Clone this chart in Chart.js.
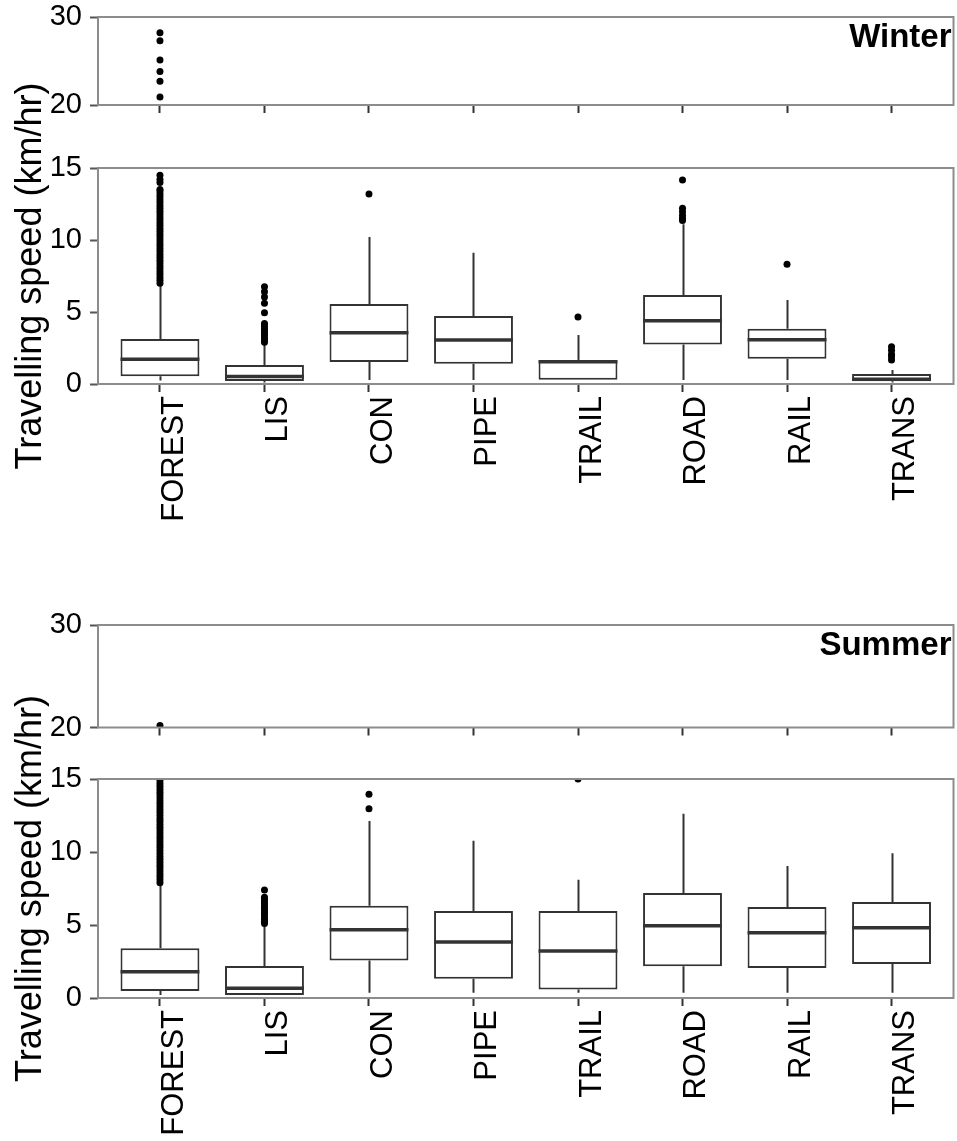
<!DOCTYPE html>
<html>
<head>
<meta charset="utf-8">
<script src="https://cdn.jsdelivr.net/npm/chart.js@4.4.1/dist/chart.umd.min.js"></script>
<style>
    html, body { margin: 0; padding: 0; background: #fff; }
    #wrap { position: relative; width: 957px; height: 1141px; overflow: hidden; }
    canvas { position: absolute; left: 0; }
</style>
</head>
<body>
<div id="wrap">
    <canvas id="winterTop" width="957" height="140" style="top:-10px"></canvas>
    <canvas id="winterBottom" width="957" height="560" style="top:0px"></canvas>
    <canvas id="summerTop" width="957" height="150" style="top:600px"></canvas>
    <canvas id="summerBottom" width="957" height="541" style="top:600px"></canvas>
</div>
<script>
const categories = ['FOREST', 'LIS', 'CON', 'PIPE', 'TRAIL', 'ROAD', 'RAIL', 'TRANS'];
const upperTicks = [20, 30];
const lowerTicks = [0, 5, 10, 15];
const yTitle = 'Travelling speed (km/hr)';

// Winter: whisker ends, quartiles, medians
const winterLo  = [0.25, 0.10, 0.28, 0.28, 0.30, 0.28, 0.28, 0.10];
const winterQ1  = [0.53, 0.21, 1.53, 1.41, 0.30, 2.75, 1.76, 0.19];
const winterMed = [1.72, 0.52, 3.56, 3.06, 1.55, 4.40, 3.08, 0.33];
const winterQ3  = [3.12, 1.32, 5.56, 4.72, 1.67, 6.18, 3.84, 0.69];
const winterHi  = [6.90, 2.80, 10.20, 9.12, 3.40, 11.10, 5.83, 0.97];
const winterOutliers = [
    [7.0, 7.2, 7.4, 7.6, 7.8, 8.0, 8.2, 8.4, 8.6, 8.8, 9.0, 9.2, 9.4, 9.6, 9.8, 10.0, 10.2,
     10.4, 10.6, 10.8, 11.0, 11.2, 11.4, 11.6, 11.8, 12.0, 12.2, 12.4, 12.6, 12.8, 13.0,
     13.2, 13.4, 13.5, 14.0, 14.2, 14.5, 20.9, 22.7, 23.8, 25.1, 27.3, 28.2],
    [2.9, 3.05, 3.2, 3.35, 3.5, 3.65, 3.8, 3.95, 4.1, 4.2, 4.95, 5.6, 6.05, 6.4, 6.75],
    [13.2],
    [],
    [4.65],
    [11.35, 11.5, 11.7, 11.97, 12.2, 14.17],
    [8.31],
    [1.67, 1.9, 2.07, 2.35, 2.58]
];

// Summer
const summerLo  = [0.20, 0.20, 0.36, 0.36, 0.36, 0.36, 0.36, 0.36];
const summerQ1  = [0.48, 0.20, 2.56, 1.32, 0.59, 2.17, 2.05, 2.33];
const summerMed = [1.80, 0.66, 4.68, 3.84, 3.22, 4.95, 4.47, 4.82];
const summerQ3  = [3.40, 2.19, 6.32, 5.96, 5.96, 7.19, 6.23, 6.58];
const summerHi  = [7.74, 5.00, 12.12, 10.77, 8.10, 12.62, 9.04, 9.91];
const summerOutliers = [
    [7.9, 8.1, 8.3, 8.5, 8.7, 8.9, 9.1, 9.3, 9.5, 9.7, 9.9, 10.1, 10.3, 10.5, 10.7, 10.9,
     11.1, 11.3, 11.5, 11.7, 11.9, 12.1, 12.3, 12.5, 12.7, 12.9, 13.1, 13.3, 13.5, 13.7,
     13.9, 14.1, 14.3, 14.5, 14.7, 14.9, 15.1, 16.0, 17.2, 18.5, 20.2],
    [5.1, 5.25, 5.4, 5.55, 5.7, 5.85, 6.0, 6.15, 6.3, 6.45, 6.6, 6.75, 6.9, 7.4],
    [12.97, 13.95],
    [],
    [15.0],
    [],
    [],
    []
];

const FONT = "'Liberation Sans', Arial, sans-serif";
const BOX_COLOR = '#333333';
const FRAME_COLOR = '#8c8c8c';

// whiskers, medians, frame and season label
function makeExtras(stats, label) {
    return {
        id: 'boxExtras',
        beforeDatasetsDraw(chart) {
            if (!stats) return;
            const { ctx, scales: { x, y } } = chart;
            ctx.save();
            ctx.strokeStyle = BOX_COLOR;
            ctx.lineWidth = 2;
            categories.forEach((c, i) => {
                const px = Math.round(x.getPixelForValue(i)) + 0.5;
                ctx.beginPath();
                ctx.moveTo(px, y.getPixelForValue(stats.q3[i]));
                ctx.lineTo(px, y.getPixelForValue(stats.hi[i]));
                ctx.moveTo(px, y.getPixelForValue(stats.q1[i]));
                ctx.lineTo(px, y.getPixelForValue(stats.lo[i]));
                ctx.stroke();
            });
            ctx.restore();
        },
        afterDatasetsDraw(chart) {
            const { ctx, chartArea: a, scales: { x, y } } = chart;
            ctx.save();
            if (stats) {
                const bars = chart.getDatasetMeta(0).data;
                ctx.strokeStyle = BOX_COLOR;
                ctx.lineWidth = 3.5;
                categories.forEach((c, i) => {
                    const half = bars[i].width / 2;
                    const px = x.getPixelForValue(i);
                    const py = y.getPixelForValue(stats.med[i]);
                    ctx.beginPath();
                    ctx.moveTo(px - half, py);
                    ctx.lineTo(px + half, py);
                    ctx.stroke();
                });
            }
            ctx.strokeStyle = FRAME_COLOR;
            ctx.lineWidth = 2;
            ctx.strokeRect(a.left, a.top, a.right - a.left, a.bottom - a.top);
            if (label) {
                ctx.fillStyle = '#000';
                ctx.font = 'bold 33px ' + FONT;
                ctx.textAlign = 'right';
                ctx.textBaseline = 'alphabetic';
                ctx.fillText(label, a.right - 2, a.top + 30);
            }
            ctx.restore();
        }
    };
}

function buildPanel(id, cfg) {
    const datasets = [];
    if (cfg.stats) {
        datasets.push({
            type: 'bar',
            data: categories.map((c, i) => ({ x: i, y: [cfg.stats.q1[i], cfg.stats.q3[i]] })),
            backgroundColor: '#ffffff',
            borderColor: BOX_COLOR,
            borderWidth: 2,
            borderSkipped: false,
            categoryPercentage: 1,
            barPercentage: 0.755,
            grouped: false
        });
    }
    const pts = [];
    cfg.outliers.forEach((list, i) => list.forEach(v => pts.push({ x: i, y: v })));
    datasets.push({
        type: 'scatter',
        data: pts,
        pointRadius: 3.5,
        pointHoverRadius: 3.5,
        pointBackgroundColor: '#000',
        pointBorderWidth: 0,
        clip: 0
    });

    return new Chart(document.getElementById(id), {
        type: 'bar',
        data: { datasets },
        options: {
            responsive: false,
            animation: false,
            events: [],
            layout: { padding: { top: cfg.padTop, right: 2, left: 0, bottom: 0 } },
            scales: {
                x: {
                    type: 'linear',
                    min: -0.593,
                    max: 7.593,
                    offset: false,
                    afterBuildTicks: s => { s.ticks = categories.map((c, i) => ({ value: i })); },
                    afterFit: s => { s.height = cfg.xHeight; },
                    grid: {
                        offset: false,
                        drawOnChartArea: false,
                        drawTicks: true,
                        tickLength: 8,
                        tickWidth: 2,
                        tickColor: '#333'
                    },
                    border: { display: false },
                    ticks: {
                        display: cfg.showLabels,
                        autoSkip: false,
                        minRotation: 90,
                        maxRotation: 90,
                        padding: 4,
                        labelOffset: 14,
                        color: '#000',
                        font: { family: FONT, size: 31 },
                        callback: v => categories[v]
                    }
                },
                y: {
                    min: cfg.yMin,
                    max: cfg.yMax,
                    afterBuildTicks: s => { s.ticks = cfg.yTicks.map(v => ({ value: v })); },
                    afterFit: s => { s.width = 98; },
                    grid: {
                        drawOnChartArea: false,
                        drawTicks: true,
                        tickLength: 8,
                        tickWidth: 2,
                        tickColor: '#555'
                    },
                    border: { display: false },
                    ticks: {
                        padding: 8,
                        color: '#000',
                        font: { family: FONT, size: 29, lineHeight: 1 }
                    },
                    title: {
                        display: cfg.showTitle,
                        text: yTitle,
                        color: '#000',
                        font: { family: FONT, size: 36 },
                        padding: { top: 9, bottom: 0 }
                    }
                }
            },
            plugins: {
                legend: { display: false },
                tooltip: { enabled: false }
            }
        },
        plugins: [makeExtras(cfg.stats, cfg.label)]
    });
}

const winterStats = { lo: winterLo, q1: winterQ1, med: winterMed, q3: winterQ3, hi: winterHi };
const summerStats = { lo: summerLo, q1: summerQ1, med: summerMed, q3: summerQ3, hi: summerHi };

buildPanel('winterTop', {
    stats: null, outliers: winterOutliers, yMin: 20, yMax: 30, yTicks: upperTicks,
    padTop: 27, xHeight: 25, showLabels: false, showTitle: false, label: 'Winter'
});
buildPanel('winterBottom', {
    stats: winterStats, outliers: winterOutliers, yMin: 0, yMax: 15, yTicks: lowerTicks,
    padTop: 168, xHeight: 176, showLabels: true, showTitle: true, label: null
});
buildPanel('summerTop', {
    stats: null, outliers: summerOutliers, yMin: 20, yMax: 30, yTicks: upperTicks,
    padTop: 25, xHeight: 16, showLabels: false, showTitle: false, label: 'Summer'
});
buildPanel('summerBottom', {
    stats: summerStats, outliers: summerOutliers, yMin: 0, yMax: 15, yTicks: lowerTicks,
    padTop: 179, xHeight: 143, showLabels: true, showTitle: true, label: null
});
</script>
</body>
</html>
